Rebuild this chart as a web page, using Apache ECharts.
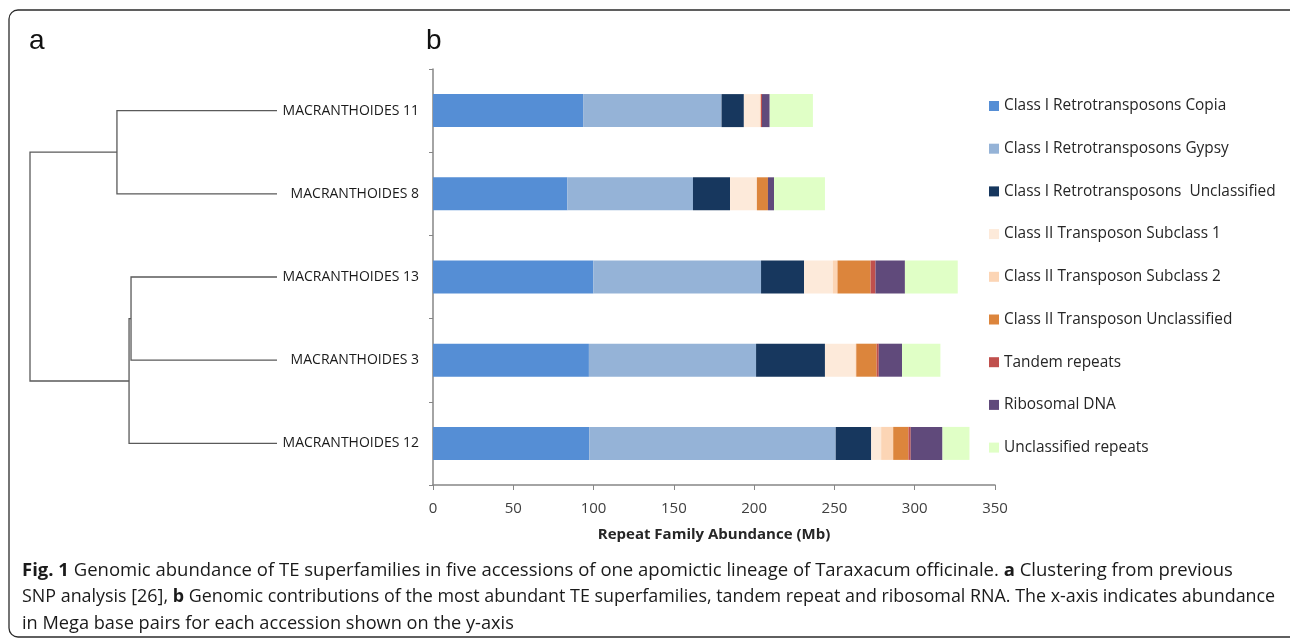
<!DOCTYPE html>
<html>
<head>
<meta charset="utf-8">
<script src="https://cdn.jsdelivr.net/npm/echarts@6/dist/echarts.min.js"></script>
<style>
html,body{margin:0;padding:0;background:#fff;}
#c{width:1290px;height:641px;}
</style>
</head>
<body>
<div id="c"></div>
<script>
// ---- data ----
const categories = ['MACRANTHOIDES 11','MACRANTHOIDES 8','MACRANTHOIDES 13','MACRANTHOIDES 3','MACRANTHOIDES 12'];
const xTicks = [0, 50, 100, 150, 200, 250, 300, 350];
const copia       = [93.5, 83.7, 99.8, 97.1, 97.3];
const gypsy       = [86.2, 78.2, 104.5, 104.1, 153.5];
const class1Uncl  = [13.9, 23.1, 26.8, 42.9, 22.1];
const sub1        = [10.0, 16.7, 17.9, 19.0, 6.2];
const sub2        = [0.6, 0, 2.9, 0.5, 7.5];
const class2Uncl  = [0, 6.9, 20.6, 12.7, 9.5];
const tandem      = [0.7, 0, 3.1, 1.3, 1.4];
const ribosomal   = [4.8, 3.8, 18.3, 14.5, 19.8];
const unclRepeats = [26.9, 31.7, 32.9, 23.9, 16.8];
const seriesNames = ['Class I Retrotransposons Copia','Class I Retrotransposons Gypsy','Class I Retrotransposons  Unclassified','Class II Transposon Subclass 1','Class II Transposon Subclass 2','Class II Transposon Unclassified','Tandem repeats','Ribosomal DNA','Unclassified repeats'];
const seriesColors = ['#558ED5','#95B3D7','#17375E','#FDEADA','#FCD5B5','#DC853C','#C0504D','#604A7B','#E0FFC6'];
// dendrogram merges: [childA, childB, height]; children 0-4 are leaves, 5+ are earlier merges
const merges = [[0, 1, 0.648], [2, 3, 0.591], [6, 4, 0.599], [5, 7, 1.0]];
const captionLines = [
  [['b','Fig. 1'],['n',' Genomic abundance of TE superfamilies in five accessions of one apomictic lineage of Taraxacum officinale. '],['b','a'],['n',' Clustering from previous']],
  [['n','SNP analysis [26], '],['b','b'],['n',' Genomic contributions of the most abundant TE superfamilies, tandem repeat and ribosomal RNA. The x-axis indicates abundance']],
  [['n','in Mega base pairs for each accession shown on the y-axis']]
];
const captionSizes = [18.5, 17.9, 18.2];

// ---- build dendrogram segments ----
const nodes = categories.map((c, i) => ({h: 0, y: i}));
const dendroData = [];
merges.forEach(m => {
  const a = nodes[m[0]], b = nodes[m[1]];
  dendroData.push([a.h, a.y, m[2], b.y, b.h]);
  nodes.push({h: m[2], y: (a.y + b.y) / 2});
});

const FONT = '"Open Sans", sans-serif';
const chart = echarts.init(document.getElementById('c'), null, {renderer: 'canvas'});

const barSeries = seriesNames.map((n, i) => ({
  name: n, type: 'bar', stack: 'total', xAxisIndex: 1, yAxisIndex: 1,
  barWidth: 33, itemStyle: {color: seriesColors[i]},
  data: [copia, gypsy, class1Uncl, sub1, sub2, class2Uncl, tandem, ribosomal, unclRepeats][i],
  emphasis: {disabled: true}, animation: false
}));

const captionGraphics = captionLines.map((line, k) => ({
  type: 'text', left: 22, top: 561 + k * 27,
  style: {
    text: line.map(p => '{' + p[0] + '|' + p[1] + '}').join(''),
    rich: {
      b: {fontFamily: FONT, fontSize: captionSizes[k], fontWeight: 'bold', fill: '#1a1a1a', lineHeight: 24},
      n: {fontFamily: FONT, fontSize: captionSizes[k], fill: '#1a1a1a', lineHeight: 24}
    }
  }
}));

chart.setOption({
  animation: false,
  backgroundColor: '#fff',
  textStyle: {fontFamily: FONT},
  grid: [
    {left: 30, top: 69, width: 247, height: 416, containLabel: false},
    {left: 433, top: 69, width: 562, height: 416, containLabel: false}
  ],
  xAxis: [
    {gridIndex: 0, type: 'value', min: 0, max: 1, inverse: true, show: false},
    {gridIndex: 1, type: 'value', min: 0, max: 350, interval: 50,
     axisLine: {show: true, lineStyle: {color: '#868686', width: 1.5}},
     axisTick: {show: true, length: 5, lineStyle: {color: '#868686'}},
     splitLine: {show: false},
     axisLabel: {fontSize: 15, color: '#404040', margin: 16, fontFamily: FONT,
       customValues: xTicks},
     name: 'Repeat Family Abundance (Mb)', nameLocation: 'middle', nameGap: 42,
     nameTextStyle: {fontSize: 15, fontWeight: 'bold', color: '#262626', fontFamily: FONT}}
  ],
  yAxis: [
    {gridIndex: 0, type: 'value', min: -0.5, max: 4.5, inverse: true, show: false},
    {gridIndex: 1, type: 'category', data: categories, inverse: true,
     axisLine: {show: true, lineStyle: {color: '#868686', width: 1.5}},
     axisTick: {show: true, length: 4, lineStyle: {color: '#868686'}},
     splitLine: {show: false},
     axisLabel: {fontSize: 14, color: '#1a1a1a', margin: 14, fontFamily: FONT}}
  ],
  legend: {
    orient: 'vertical', left: 989, top: 97, padding: 0,
    itemWidth: 10, itemHeight: 10, itemGap: 24.7, icon: 'rect',
    selectedMode: false,
    textStyle: {fontSize: 15.4, color: '#262626', fontFamily: FONT, lineHeight: 18, padding: [0, 0, 0, 0]},
    data: seriesNames
  },
  graphic: [
    {type: 'rect', shape: {x: 9, y: 10, width: 1300, height: 627, r: 9},
     style: {fill: 'none', stroke: '#2b2b2b', lineWidth: 1.3}, silent: true},
    {type: 'text', left: 29, top: 27, style: {text: 'a', fontFamily: '"Liberation Sans", Arial, sans-serif', fontSize: 28, fill: '#111'}},
    {type: 'text', left: 426, top: 27, style: {text: 'b', fontFamily: '"Liberation Sans", Arial, sans-serif', fontSize: 28, fill: '#111'}}
  ].concat(captionGraphics),
  series: [
    {
      type: 'custom', xAxisIndex: 0, yAxisIndex: 0, silent: true,
      data: dendroData,
      encode: {x: [0, 2, 4], y: [1, 3]},
      renderItem: function (params, api) {
        const hA = api.value(0), yA = api.value(1), h = api.value(2), yB = api.value(3), hB = api.value(4);
        const pts = [api.coord([hA, yA]), api.coord([h, yA]), api.coord([h, yB]), api.coord([hB, yB])];
        return {type: 'polyline', shape: {points: pts},
          style: {stroke: '#5a5a5a', lineWidth: 1.3, fill: null}};
      }
    }
  ].concat(barSeries)
});
</script>
</body>
</html>
